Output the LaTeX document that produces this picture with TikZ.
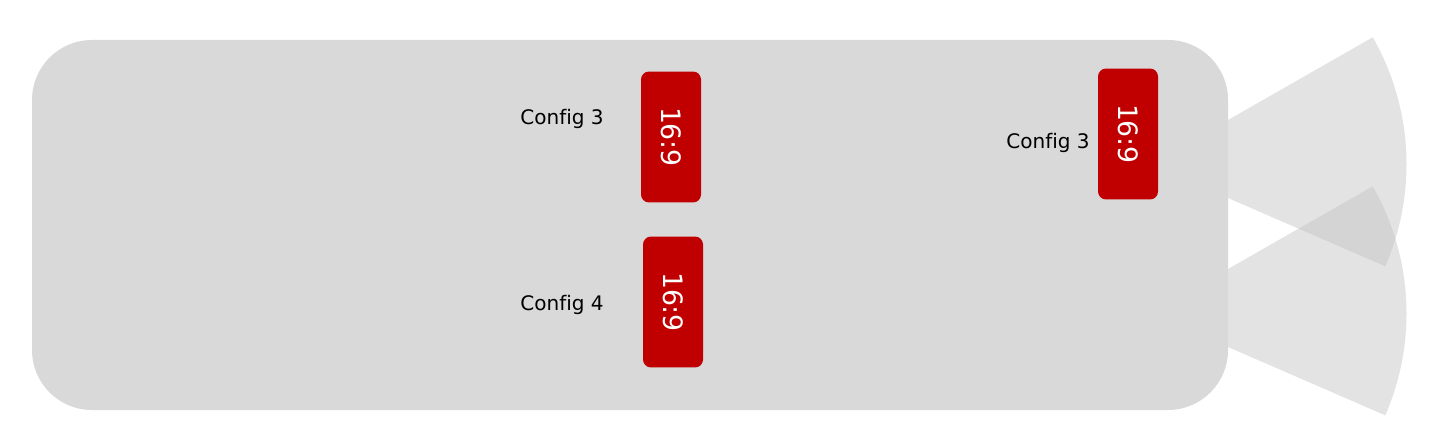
\documentclass[tikz,border=0pt]{standalone}
\usepackage{fontspec}
\setmainfont[Ligatures=NoCommon]{DejaVu Sans}

\begin{document}
\begin{tikzpicture}[x=0.02cm,y=0.02cm,
  panel/.style={fill={rgb,255:red,217;green,217;blue,217},rounded corners=1.2cm},
  fov/.style={fill={rgb,255:red,195;green,195;blue,195},opacity=0.464},
  ratio/.style={fill={rgb,255:red,192;green,0;blue,0},text=white,rounded corners=0.16cm,
    rotate=-90,minimum width=2.62cm,minimum height=1.2cm,inner sep=0pt,
    font=\fontsize{15.2}{18}\selectfont},
  config/.style={anchor=base,font=\fontsize{11.4}{14}\selectfont}]
  \useasboundingbox (0,0) rectangle (1432,440);

  \coordinate (cam1) at (1150.5,275.7);
  \coordinate (cam2) at (1150.5,126.7);
  \fill[fov] (cam1) -- ++(-23.5:256) arc[start angle=-23.5,end angle=29.75,radius=256] -- cycle;
  \fill[fov] (cam2) -- ++(-23.5:256) arc[start angle=-23.5,end angle=29.75,radius=256] -- cycle;

  \fill[panel] (32,30) rectangle (1228,400);

  \node[ratio] (r1) at (671,303) {16:9};
  \node[ratio] (r2) at (673,138) {16:9};
  \node[ratio] (r3) at (1128,306) {16:9};

  \node[config] (c1) at (562,316) {Config 3};
  \node[config] (c2) at (562,130) {Config 4};
  \node[config] (c3) at (1048,292) {Config 3};
\end{tikzpicture}
\end{document}
